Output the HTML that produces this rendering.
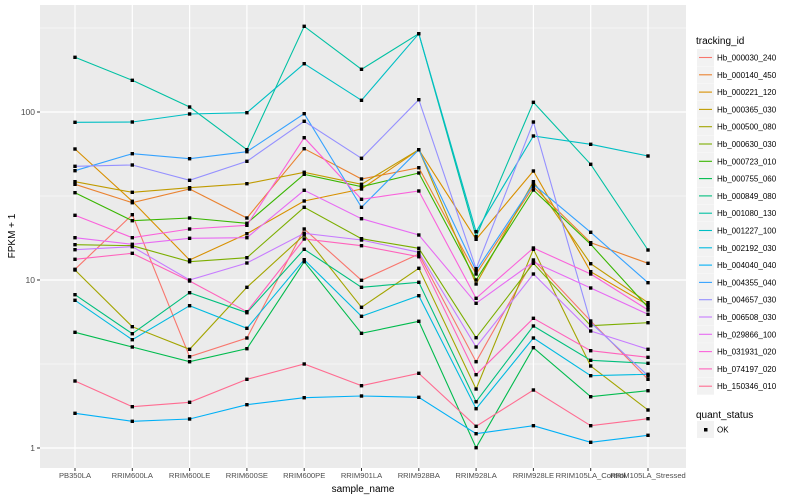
<!DOCTYPE html>
<html><head><meta charset="utf-8"><style>body{margin:0;background:#fff}svg{display:block}text{font-family:"Liberation Sans",sans-serif}</style></head><body>
<svg width="800" height="500" xmlns="http://www.w3.org/2000/svg">
<rect x="40" y="5" width="646" height="463" fill="#EBEBEB"/>
<g stroke="#fff" stroke-width="0.6">
<line x1="40" x2="686" y1="28" y2="28"/><line x1="40" x2="686" y1="196" y2="196"/><line x1="40" x2="686" y1="364" y2="364"/>
</g>
<g stroke="#fff" stroke-width="1.2">
<line x1="40" x2="686" y1="112" y2="112"/><line x1="40" x2="686" y1="280" y2="280"/><line x1="40" x2="686" y1="448" y2="448"/>
<line x1="75" x2="75" y1="5" y2="468"/><line x1="132.3" x2="132.3" y1="5" y2="468"/><line x1="189.6" x2="189.6" y1="5" y2="468"/><line x1="246.9" x2="246.9" y1="5" y2="468"/><line x1="304.2" x2="304.2" y1="5" y2="468"/><line x1="361.5" x2="361.5" y1="5" y2="468"/><line x1="418.8" x2="418.8" y1="5" y2="468"/><line x1="476.1" x2="476.1" y1="5" y2="468"/><line x1="533.4" x2="533.4" y1="5" y2="468"/><line x1="590.7" x2="590.7" y1="5" y2="468"/><line x1="648" x2="648" y1="5" y2="468"/>
</g>
<g id="lines" fill="none" stroke-width="1.1"></g>
<g id="pts" fill="#000"></g>
<g stroke="#333" stroke-width="1">
<line x1="37" x2="40" y1="112" y2="112"/><line x1="37" x2="40" y1="280" y2="280"/><line x1="37" x2="40" y1="448" y2="448"/>
</g>
<g font-size="8.5" fill="#4D4D4D" text-anchor="end">
<text x="35" y="115">100</text><text x="35" y="283">10</text><text x="35" y="451">1</text>
</g>
<g id="xt" stroke="#333" stroke-width="1"></g>
<g id="xl" font-size="7.6" fill="#4D4D4D" text-anchor="middle"></g>
<text x="363" y="492" font-size="10" text-anchor="middle" fill="#000">sample_name</text>
<text transform="translate(15,236) rotate(-90)" font-size="10" text-anchor="middle" fill="#000">FPKM + 1</text>
<text x="696" y="44" font-size="10" fill="#000">tracking_id</text>
<g id="leg"></g>
<text x="696" y="418" font-size="10" fill="#000">quant_status</text>
<rect x="697" y="421" width="17" height="17" fill="#F2F2F2"/>
<rect x="704" y="428" width="3.5" height="3.5" fill="#000"/>
<text x="717" y="432.5" font-size="8" fill="#000">OK</text>
<script>
var X=[75,132.3,189.6,246.9,304.2,361.5,418.8,476.1,533.4,590.7,648];
var S=[
["#F8766D",[269.3,214.7,356.7,338,229,280.3,254,361.7,260,321,379.3]],
["#EA8331",[184.3,202.7,189,218,148.7,179,167.7,274,186.7,242.7,263.3]],
["#D89000",[149,201.3,260,233.7,201,189,149.7,239.3,171,271.7,305]],
["#C09B00",[181.7,192.3,187.7,183.7,172.3,184.3,149.7,284,181.7,263.7,302.7]],
["#A3A500",[270,326.7,349.3,287.3,235,307.3,268.3,389,249.3,366,410]],
["#7CAE00",[244.7,245.7,261.7,257.7,207.3,238.7,248.3,337.7,263.3,325.7,322.7]],
["#39B600",[192.7,220.7,218,223.3,174.3,186.7,173,280,190,244.3,307.3]],
["#00BB4E",[332.3,347,361.7,348.7,261.7,333.3,321.3,447.7,347.7,396.7,390.7]],
["#00BF7D",[294.7,333.7,292.7,312.7,249.3,287.3,282.3,401.7,326,360.3,363.3]],
["#00C1A3",[57.3,80.3,107,149.7,26.3,69.3,33.7,236.7,102.3,164.3,250]],
["#00BFC4",[122.3,122,114,112.7,63.7,100.3,33.7,231.7,136,144.3,156]],
["#00BAE0",[300.3,339.7,305.7,328.3,259.7,316.3,295.7,408.7,338,375.7,374.3]],
["#00B0F6",[413.3,421.3,419,404.7,397.7,396,397.3,433.7,425.7,442.3,435.3]],
["#35A2FF",[170.7,153.7,158.7,151.7,113.7,207.3,149.7,270.7,184.3,232.3,282.7]],
["#9590FF",[166.3,165,180.3,161.3,121.3,158.3,99.7,268.7,122,322.7,375.7]],
["#C77CFF",[249.7,246.7,280,263,233.3,240,252.3,347,274,331,349.3]],
["#E76BF3",[237.7,244.3,238.3,237.7,190.3,218.7,235,303.3,262,288,314.3]],
["#FA62DB",[215.3,237.7,229,225.3,137.7,199.3,191,298.3,248,274,310]],
["#FF62BC",[259.3,253.3,281,311.7,239,245.7,256.7,374.7,318.3,350.7,357.3]],
["#FF6C91",[381,406.7,402.3,379.3,364,385.7,373.3,426.3,390,425.7,418.7]]];
var N=["Hb_000030_240","Hb_000140_450","Hb_000221_120","Hb_000365_030","Hb_000500_080","Hb_000630_030","Hb_000723_010","Hb_000755_060","Hb_000849_080","Hb_001080_130","Hb_001227_100","Hb_002192_030","Hb_004040_040","Hb_004355_040","Hb_004657_030","Hb_006508_030","Hb_029866_100","Hb_031931_020","Hb_074197_020","Hb_150346_010"];
var L=["PB350LA","RRIM600LA","RRIM600LE","RRIM600SE","RRIM600PE","RRIM901LA","RRIM928BA","RRIM928LA","RRIM928LE","RRIM105LA_Control","RRIM105LA_Stressed"];
var ns="http://www.w3.org/2000/svg";
function el(t,a,p,txt){var e=document.createElementNS(ns,t);for(var k in a)e.setAttribute(k,a[k]);if(txt)e.textContent=txt;document.getElementById(p).appendChild(e);}
S.forEach(function(s,i){var p=s[1].map(function(y,j){return X[j]+","+y}).join(" ");
el("polyline",{points:p,stroke:s[0]},"lines");
s[1].forEach(function(y,j){el("rect",{x:X[j]-1.7,y:y-1.7,width:3.4,height:3.4},"pts")});
var ly=49+i*17.3;
el("rect",{x:697,y:ly,width:17,height:17,fill:"#F2F2F2"},"leg");
el("line",{x1:699,x2:712,y1:ly+8.5,y2:ly+8.5,stroke:s[0],"stroke-width":1.1},"leg");
el("text",{x:717,y:ly+11.5,"font-size":"8",fill:"#000"},"leg",N[i]);});
X.forEach(function(x,j){el("line",{x1:x,x2:x,y1:468,y2:471},"xt");el("text",{x:x,y:478},"xl",L[j]);});
</script>
</svg>
</body></html>
